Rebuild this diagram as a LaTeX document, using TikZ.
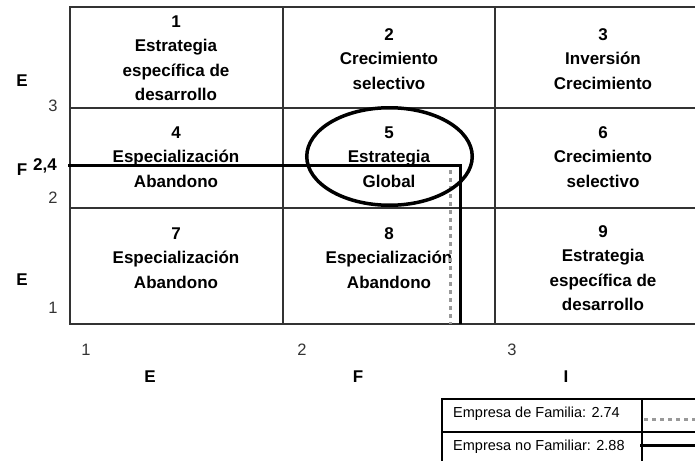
\documentclass[tikz,border=0pt]{standalone}
\usepackage{fontspec}
\setmainfont{Liberation Sans}
\usetikzlibrary{shapes.geometric}
\begin{document}
\begin{tikzpicture}[x=1pt,y=-1pt,
  cell/.style={font=\fontsize{17}{24.5}\selectfont\bfseries, align=center, inner sep=0pt},
  axnum/.style={font=\fontsize{16.5}{20}\selectfont, text=black!80, inner sep=0pt},
  axlab/.style={font=\fontsize{17}{20}\selectfont\bfseries, inner sep=0pt},
  gridline/.style={line width=1.3pt, draw=black!80},
  nofam/.style={line width=3pt, draw=black},
  fam/.style={line width=3pt, draw=black!40, dash pattern=on 4pt off 4pt},
  ring/.style={draw=black, line width=3.5pt, ellipse, minimum width=165.5pt, minimum height=97.5pt, inner sep=0pt},
  legtext/.style={font=\fontsize{14.5}{17}\selectfont, anchor=west, inner sep=0pt}]
\useasboundingbox (0,0) rectangle (695,460);
\clip (0,0) rectangle (695,460);
% grid
\draw[gridline] (70,7) rectangle (712,324);
\draw[gridline] (283,7) -- (283,324);
\draw[gridline] (495,7) -- (495,324);
\draw[gridline] (70,108) -- (712,108);
\draw[gridline] (70,208) -- (712,208);
% cell texts
\node[cell] (c1) at (176,58) {1\\Estrategia\\específica de\\desarrollo};
\node[cell] (c2) at (389,59) {2\\Crecimiento\\selectivo};
\node[cell] (c3) at (603,59) {3\\Inversión\\Crecimiento};
\node[cell] (c4) at (176,157) {4\\Especialización\\Abandono};
\node[cell] (c5) at (389,157) {5\\Estrategia\\Global};
\node[cell] (c6) at (603,157) {6\\Crecimiento\\selectivo};
\node[cell] (c7) at (176,258) {7\\Especialización\\Abandono};
\node[cell] (c8) at (389,258) {8\\Especialización\\Abandono};
\node[cell] (c9) at (603,268) {9\\Estrategia\\específica de\\desarrollo};
% left axis
\node[axlab] (le1) at (22,81) {E};
\node[axlab] (lf) at (22,170) {F};
\node[axlab] (le2) at (22,280) {E};
\node[axnum] (l3) at (53,106) {3};
\node[axlab] (l24) at (45,166) {2,4};
\node[axnum] (l2) at (53,198) {2};
\node[axnum] (l1) at (53,308) {1};
% bottom axis
\node[axnum] (b1) at (86,350) {1};
\node[axnum] (b2) at (302,350) {2};
\node[axnum] (b3) at (512,350) {3};
\node[axlab] (be) at (150,377) {E};
\node[axlab] (bf) at (358,377) {F};
\node[axlab] (bi) at (566,377) {I};
% value lines
\coordinate (pA) at (68,165);
\coordinate (pB) at (460,165);
\coordinate (pC) at (460,324);
\coordinate (qA) at (450,170);
\coordinate (qB) at (450,324);
\draw[fam] (qA) -- (qB);
\draw[nofam] (pA) -- (pB) -- (pC);
% ring
\node[ring] (r5) at (389.5,156.5) {};
% legend
\draw[gridline, draw=black] (442,399) rectangle (720,470);
\draw[gridline, draw=black] (442,432) -- (720,432);
\draw[gridline, draw=black] (642,399) -- (642,470);
\node[legtext] (lt1) at (453,414) {Empresa de Familia: 2.74};
\node[legtext] (lt2) at (453,447) {Empresa no Familiar: 2.88};
\coordinate (la1) at (644,419);
\coordinate (la2) at (700,419);
\coordinate (lb1) at (640,445);
\coordinate (lb2) at (700,445);
\draw[fam] (la1) -- (la2);
\draw[nofam] (lb1) -- (lb2);
\end{tikzpicture}
\end{document}
